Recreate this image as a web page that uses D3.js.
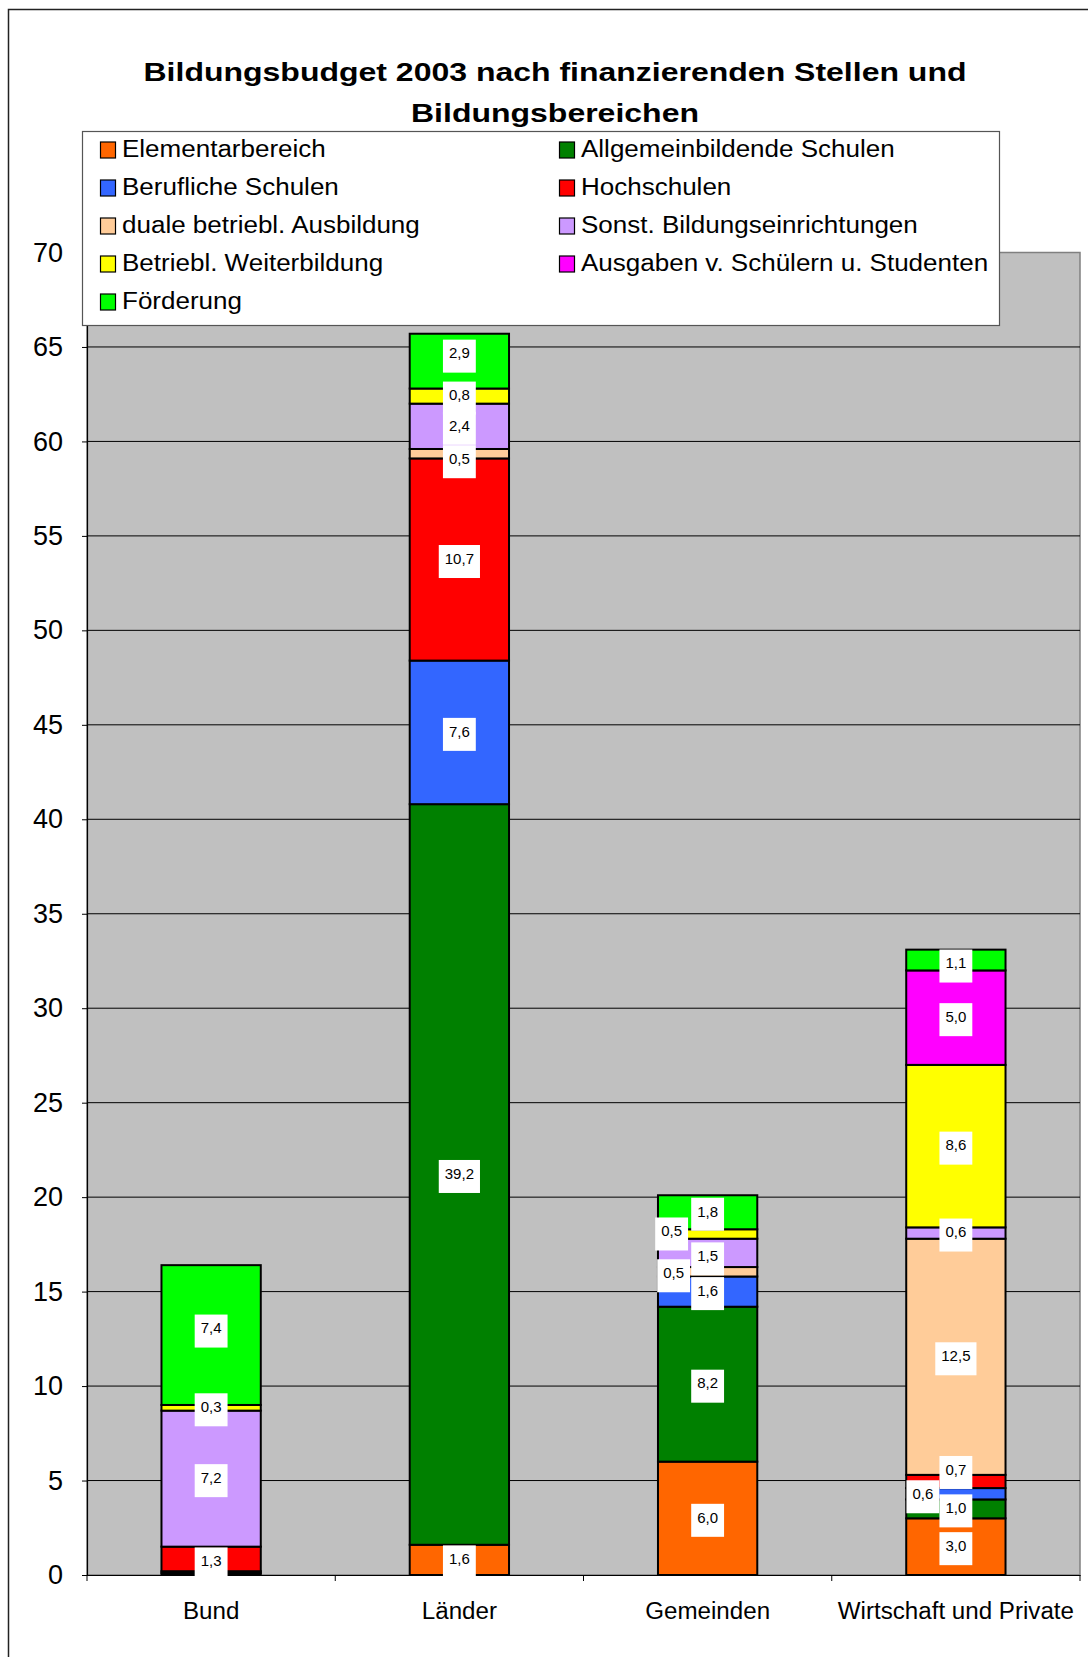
<!DOCTYPE html>
<html><head><meta charset="utf-8">
<script src="https://cdn.jsdelivr.net/npm/d3@7"></script>
<style>html,body{margin:0;padding:0;background:#fff;}svg{display:block;font-family:"Liberation Sans",Arial,sans-serif;}</style>
</head><body>
<svg id="chart" width="1088" height="1657"></svg>
<script>
// ---- data ----
const categories = ["Bund", "Länder", "Gemeinden", "Wirtschaft und Private"];
const seriesNames = ["Elementarbereich", "Allgemeinbildende Schulen", "Berufliche Schulen", "Hochschulen",
  "duale betriebl. Ausbildung", "Sonst. Bildungseinrichtungen", "Betriebl. Weiterbildung",
  "Ausgaben v. Schülern u. Studenten", "Förderung"];
const elementarbereich = [0.0, 1.6, 6.0, 3.0];
const allgemeinbildende = [0.1, 39.2, 8.2, 1.0];
const beruflicheSchulen = [0.1, 7.6, 1.6, 0.6];
const hochschulen = [1.3, 10.7, 0.0, 0.7];
const dualeAusbildung = [0.0, 0.5, 0.5, 12.5];
const sonstBildung = [7.2, 2.4, 1.5, 0.6];
const weiterbildung = [0.3, 0.8, 0.5, 8.6];
const ausgabenSchueler = [0.0, 0.0, 0.0, 5.0];
const foerderung = [7.4, 2.9, 1.8, 1.1];
const yTicks = [0, 5, 10, 15, 20, 25, 30, 35, 40, 45, 50, 55, 60, 65, 70];
const titleLines = ["Bildungsbudget 2003 nach finanzierenden Stellen und", "Bildungsbereichen"];

// ---- styles / layout ----
const colors = ["#FF6600", "#008000", "#3366FF", "#FF0000", "#FFCC99", "#CC99FF", "#FFFF00", "#FF00FF", "#00FF00"];
const labelNudge = {
  "Gemeinden|Betriebl. Weiterbildung": [-36, -2],
  "Gemeinden|duale betriebl. Ausbildung": [-34, 2],
  "Gemeinden|Sonst. Bildungseinrichtungen": [0, 4],
  "Wirtschaft und Private|Hochschulen": [0, -11],
  "Wirtschaft und Private|Berufliche Schulen": [-33, 1],
  "Wirtschaft und Private|Förderung": [0, 4],
  "Länder|Förderung": [0, -7],
  "Länder|duale betriebl. Ausbildung": [0, 6],
  "Bund|Förderung": [0, -6],
  "Bund|Hochschulen": [0, 3]
};
const M = {left: 87, right: 1080, top: 252.5, bottom: 1575};

function stretch(sel, k) {
  sel.each(function () {
    const w = this.getComputedTextLength();
    d3.select(this).attr("textLength", w * k).attr("lengthAdjust", "spacingAndGlyphs");
  });
}

const valuesBySeries = [elementarbereich, allgemeinbildende, beruflicheSchulen, hochschulen,
  dualeAusbildung, sonstBildung, weiterbildung, ausgabenSchueler, foerderung];
const table = categories.map((c, i) => {
  const row = {category: c};
  seriesNames.forEach((s, j) => row[s] = valuesBySeries[j][i]);
  return row;
});

const svg = d3.select("#chart");
// outer frame
svg.append("rect").attr("x", 8.5).attr("y", 9.5).attr("width", 1100).attr("height", 1700)
  .attr("fill", "#fff").attr("stroke", "#222").attr("stroke-width", 1.5);

const x = d3.scaleBand().domain(categories).range([M.left, M.right]).padding(0);
const y = d3.scaleLinear().domain([0, 70]).range([M.bottom, M.top]);
const barW = x.bandwidth() * 0.4;

// plot area
svg.append("rect").attr("x", M.left).attr("y", M.top).attr("width", M.right - M.left).attr("height", M.bottom - M.top)
  .attr("fill", "#C0C0C0").attr("stroke", "#808080").attr("stroke-width", 1.5);

// gridlines
svg.append("g").selectAll("line").data(yTicks.filter(t => t > 0 && t < 70)).join("line")
  .attr("x1", M.left).attr("x2", M.right).attr("y1", d => y(d)).attr("y2", d => y(d))
  .attr("stroke", "#000").attr("stroke-width", 1);

// y axis
const yAxis = svg.append("g").attr("transform", `translate(${M.left},0)`)
  .call(d3.axisLeft(y).tickValues(yTicks).tickSize(5).tickPadding(19).tickFormat(d3.format("d")));
yAxis.select(".domain").attr("stroke", "#000").attr("stroke-width", 1.2);
yAxis.selectAll(".tick line").attr("stroke", "#000");
yAxis.selectAll("text").attr("font-size", 27).attr("fill", "#000").attr("font-family", "Liberation Sans, Arial, sans-serif");

// x axis
const xAxis = svg.append("g").attr("transform", `translate(0,${M.bottom})`)
  .call(d3.axisBottom(x).tickSize(0).tickPadding(28));
xAxis.select(".domain").attr("stroke", "#000").attr("stroke-width", 1.2);
xAxis.selectAll("text").attr("font-size", 23).attr("fill", "#000").attr("font-family", "Liberation Sans, Arial, sans-serif");
stretch(xAxis.selectAll("text"), 1.05);
// boundary ticks
const bounds = categories.map(c => x(c)).concat([M.right]);
xAxis.append("g").selectAll("line").data(bounds).join("line")
  .attr("x1", d => d).attr("x2", d => d).attr("y1", 0).attr("y2", 6).attr("stroke", "#000").attr("stroke-width", 1);

// stacked bars
const stack = d3.stack().keys(seriesNames)(table);
const layers = svg.append("g").selectAll("g").data(stack).join("g")
  .attr("fill", (d, i) => colors[i]);
layers.selectAll("rect").data(d => d.filter(p => p[1] - p[0] > 0).map(p => ({p, key: d.key}))).join("rect")
  .attr("x", d => x(d.p.data.category) + (x.bandwidth() - barW) / 2)
  .attr("width", barW)
  .attr("y", d => y(d.p[1]))
  .attr("height", d => y(d.p[0]) - y(d.p[1]))
  .attr("stroke", "#000").attr("stroke-width", 2);

// labels
const fmt = v => d3.format(".1f")(v).replace(".", ",");
const labels = [];
stack.forEach(layer => layer.forEach(p => {
  const v = p[1] - p[0];
  if (v >= 0.3) labels.push({cat: p.data.category, key: layer.key, v, mid: (p[0] + p[1]) / 2});
}));
const lg = svg.append("g").selectAll("g").data(labels).join("g")
  .attr("transform", d => {
    const n = labelNudge[d.cat + "|" + d.key] || [0, 0];
    return `translate(${x(d.cat) + x.bandwidth() / 2 + n[0]},${y(d.mid) + 2 + n[1]})`;
  });
lg.append("text").text(d => fmt(d.v)).attr("text-anchor", "middle").attr("dy", "0.35em")
  .attr("y", -3).attr("font-size", 15).attr("fill", "#000");
lg.each(function () {
  const g = d3.select(this);
  const w = g.select("text").node().getComputedTextLength();
  g.insert("rect", "text").attr("x", -(w + 12) / 2).attr("y", -16.5).attr("width", w + 12).attr("height", 33).attr("fill", "#fff");
});

// title
const titles = svg.append("g").selectAll("text").data(titleLines).join("text")
  .attr("x", 555).attr("y", (d, i) => 81 + i * 41).attr("text-anchor", "middle")
  .attr("font-size", 26).attr("font-weight", "bold").attr("fill", "#000").text(d => d);
const kTitle = 823 / titles.nodes()[0].getComputedTextLength();
stretch(titles, kTitle);

// legend
const legend = svg.append("g");
legend.append("rect").attr("x", 82.5).attr("y", 131.5).attr("width", 917).attr("height", 194)
  .attr("fill", "#fff").attr("stroke", "#555").attr("stroke-width", 1.2);
const li = legend.selectAll("g").data(seriesNames).join("g")
  .attr("transform", (d, i) => `translate(${i % 2 === 0 ? 100 : 559},${149 + Math.floor(i / 2) * 38})`);
li.append("rect").attr("x", 0.5).attr("y", -7).attr("width", 15).attr("height", 16)
  .attr("fill", (d, i) => colors[i]).attr("stroke", "#000").attr("stroke-width", 1.2);
const ltext = li.append("text").attr("x", 22).attr("dy", "0.35em").attr("font-size", 23).attr("fill", "#000").text(d => d);
stretch(ltext, 26 / 23);
</script>
</body></html>
